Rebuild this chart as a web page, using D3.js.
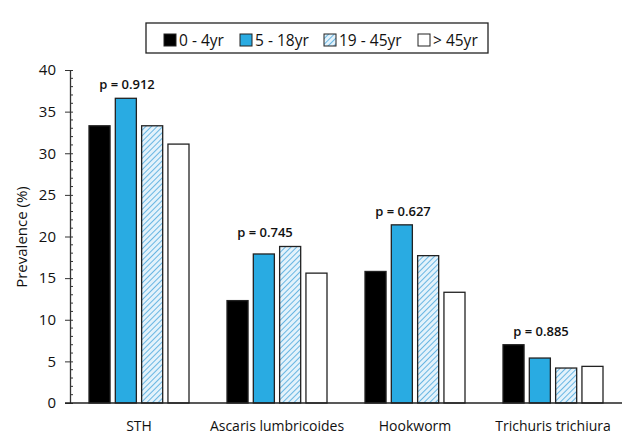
<!DOCTYPE html>
<html><head><meta charset="utf-8">
<script src="https://cdn.jsdelivr.net/npm/d3@7"></script>
<style>body{margin:0;background:#fff}svg{display:block}text{font-family:"Open Sans","Liberation Sans",sans-serif}</style>
</head><body><svg id="c" width="640" height="445"></svg>
<script>
const categories = ["STH", "Ascaris lumbricoides", "Hookworm", "Trichuris trichiura"];
const groups = ["0 - 4yr", "5 - 18yr", "19 - 45yr", "> 45yr"];
const age0_4 = [33.3, 12.3, 15.8, 7.0];
const age5_18 = [36.6, 17.9, 21.4, 5.4];
const age19_45 = [33.3, 18.8, 17.7, 4.2];
const age45p = [31.1, 15.6, 13.3, 4.4];
const pValues = ["p = 0.912", "p = 0.745", "p = 0.627", "p = 0.885"];
const yTicks = [0, 5, 10, 15, 20, 25, 30, 35, 40];

const series = [age0_4, age5_18, age19_45, age45p];
const fills = ["#000000", "#29abe2", "url(#hatch)", "#ffffff"];

const svg = d3.select("#c");
const defs = svg.append("defs");
const pat = defs.append("pattern").attr("id", "hatch").attr("patternUnits", "userSpaceOnUse")
  .attr("width", 4).attr("height", 4).attr("patternTransform", "rotate(45)");
pat.append("rect").attr("width", 4).attr("height", 4).attr("fill", "#e3f2fb");
pat.append("line").attr("x1", 0).attr("y1", 0).attr("x2", 0).attr("y2", 4)
  .attr("stroke", "#4aa7dc").attr("stroke-width", 1.6);

const x0 = 70, x1 = 622, yB = 403, yT = 70;
const x = d3.scaleBand().domain(categories).range([x0, x1]);
const xi = d3.scaleBand().domain(d3.range(4)).range([-50, 50]).paddingInner(0.2);
const y = d3.scaleLinear().domain([0, 40]).range([yB, yT]);

// bars
categories.forEach((c, ci) => {
  const cx = x(c) + x.bandwidth() / 2;
  series.forEach((s, si) => {
    svg.append("rect")
      .attr("x", cx + xi(si)).attr("y", y(s[ci]))
      .attr("width", xi.bandwidth()).attr("height", y(0) - y(s[ci]))
      .attr("fill", fills[si]).attr("stroke", "#222").attr("stroke-width", 1.3);
  });
  const mx = d3.max(series, s => s[ci]);
  svg.append("text").attr("x", cx - 12).attr("y", y(mx) - 9)
    .attr("text-anchor", "middle").attr("font-size", 13).attr("font-weight", 600)
    .attr("fill", "#111").text(pValues[ci]);
});

// y axis
const minor = d3.range(0, 41, 1).filter(v => v % 5 !== 0);
svg.append("g").selectAll("line").data(minor).join("line")
  .attr("x1", x0).attr("x2", x0 + 3).attr("y1", d => y(d)).attr("y2", d => y(d))
  .attr("stroke", "#333").attr("stroke-width", 1);
const ya = svg.append("g").attr("transform", `translate(${x0},0)`)
  .call(d3.axisLeft(y).tickValues(yTicks).tickSize(5).tickSizeOuter(0));
ya.select(".domain").attr("stroke", "#333").attr("stroke-width", 1.3);
ya.selectAll(".tick line").attr("stroke", "#333").attr("x2", 3).attr("x1", -5);
ya.selectAll(".tick text").attr("font-size", 15).attr("fill", "#111")
  .attr("font-family", "Open Sans, sans-serif").attr("x", -14);

// x axis baseline
const xa = svg.append("g").attr("transform", `translate(0,${yB})`)
  .call(d3.axisBottom(x).tickSize(0).tickSizeOuter(0));
xa.select(".domain").attr("stroke", "#222").attr("stroke-width", 1.6).attr("d", `M${x0 - 5},0H${x1}`);
xa.selectAll(".tick text").attr("font-size", 14).attr("fill", "#111")
  .attr("font-family", "Open Sans, sans-serif").attr("dy", "1.75em");

svg.append("text").attr("transform", `translate(27,237) rotate(-90)`)
  .attr("text-anchor", "middle").attr("font-size", 15).attr("fill", "#111").text("Prevalence (%)");

// legend
svg.append("rect").attr("x", 146).attr("y", 23).attr("width", 342).attr("height", 30)
  .attr("fill", "#fff").attr("stroke", "#222").attr("stroke-width", 1.3);
const lx = [164, 240, 324, 418];
groups.forEach((g, i) => {
  svg.append("rect").attr("x", lx[i]).attr("y", 34).attr("width", 12).attr("height", 12)
    .attr("fill", fills[i]).attr("stroke", "#222").attr("stroke-width", 1);
  svg.append("text").attr("x", lx[i] + 15).attr("y", 46).attr("font-size", 15.5)
    .attr("fill", "#111").text(g);
});
</script></body></html>
